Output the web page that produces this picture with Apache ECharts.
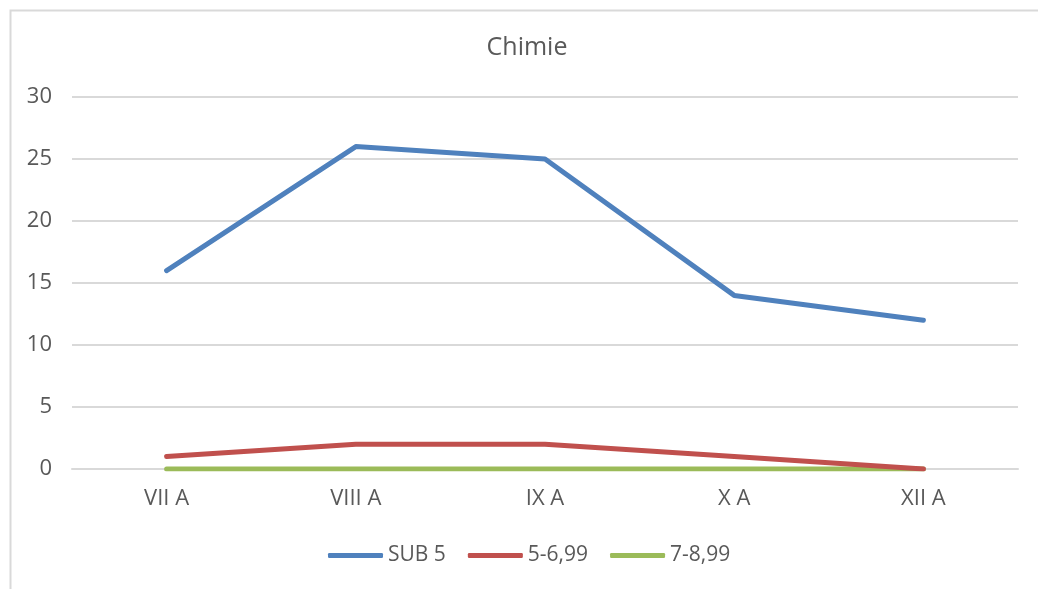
<!DOCTYPE html>
<html>
<head>
<meta charset="utf-8">
<script src="https://cdn.jsdelivr.net/npm/echarts@6/dist/echarts.min.js"></script>
<style>html,body{margin:0;padding:0;background:#fff;}#c{width:1038px;height:589px;}</style>
</head>
<body>
<div id="c"></div>
<script>
const title = 'Chimie';
const categories = ['VII A', 'VIII A', 'IX A', 'X A', 'XII A'];
const seriesNames = ['SUB 5', '5-6,99', '7-8,99'];
const sub5 = [16, 26, 25, 14, 12];
const s5to699 = [1, 2, 2, 1, 0];
const s7to899 = [0, 0, 0, 0, 0];
const colors = ['#4F81BD', '#C0504D', '#9BBB59'];

const chart = echarts.init(document.getElementById('c'), null, {renderer: 'canvas'});
const font = '"Open Sans", "Noto Sans", sans-serif';
const values = [sub5, s5to699, s7to899];
chart.setOption({
  animation: false,
  color: colors,
  title: {
    text: title, left: 522, textAlign: 'center', top: 30,
    textStyle: {fontFamily: font, fontSize: 25, fontWeight: 'normal', color: '#595959'}
  },
  graphic: [{
    type: 'rect', left: 8, top: 8, z: -10,
    shape: {x: 0, y: 0, width: 1200, height: 800},
    style: {fill: 'none', stroke: '#D9D9D9', lineWidth: 2}
  }],
  legend: {
    left: 323, top: 540,
    icon: 'roundRect', itemWidth: 55, itemHeight: 5, itemGap: 22,
    textStyle: {fontFamily: font, fontSize: 21, color: '#595959'},
    data: seriesNames
  },
  grid: {left: 72, right: 20, top: 97, bottom: 120, containLabel: false},
  xAxis: {
    type: 'category', data: categories, boundaryGap: true,
    axisLine: {lineStyle: {color: '#D9D9D9', width: 2}},
    axisTick: {show: false},
    axisLabel: {fontFamily: font, fontSize: 22, color: '#595959', margin: 19}
  },
  yAxis: {
    type: 'value', min: 0, max: 30, interval: 5,
    axisLine: {show: false}, axisTick: {show: false},
    splitLine: {lineStyle: {color: '#D9D9D9', width: 2}},
    axisLabel: {fontFamily: font, fontSize: 22, color: '#595959', margin: 20}
  },
  series: seriesNames.map((n, i) => ({
    name: n, type: 'line', data: values[i], symbol: 'none',
    lineStyle: {width: 5, color: colors[i], cap: 'round', join: 'round'},
    itemStyle: {color: colors[i]},
    z: 3 - i
  }))
});
</script>
</body>
</html>
